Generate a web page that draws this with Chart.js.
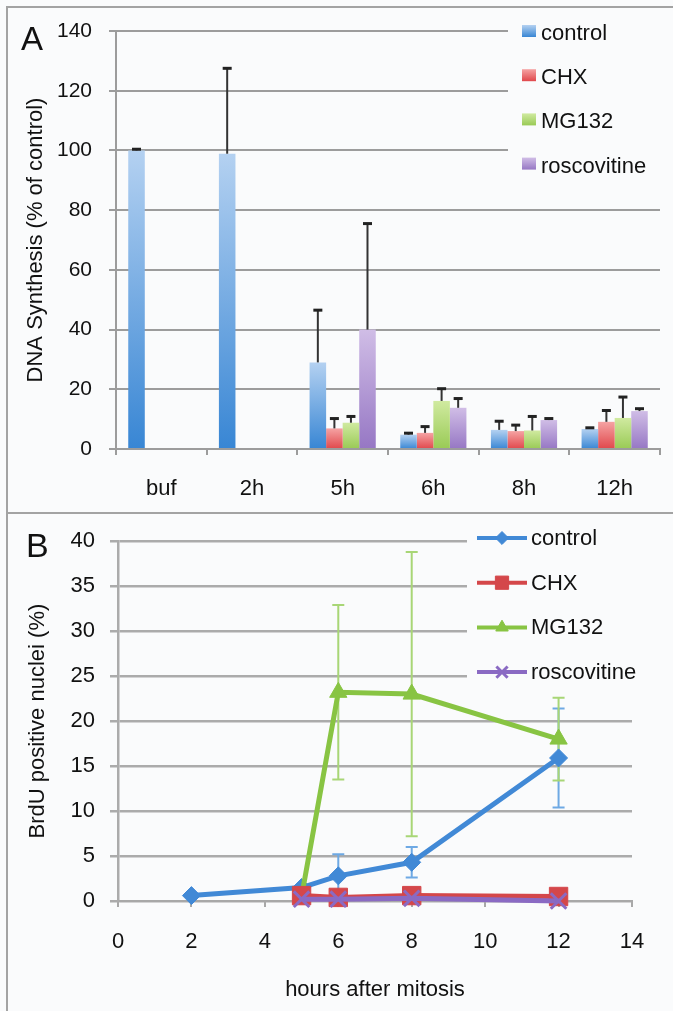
<!DOCTYPE html>
<html>
<head>
<meta charset="utf-8">
<script src="https://cdn.jsdelivr.net/npm/chart.js@4.4.1/dist/chart.umd.min.js"></script>
<style>
  html, body { margin: 0; padding: 0; background: #fafbfc; }
  #wrap { position: relative; width: 673px; height: 1011px; overflow: hidden; }
  canvas { position: absolute; left: 0; }
  .rule { position: absolute; background: #a3a3a3; }
</style>
</head>
<body>
<div id="wrap">
  <canvas id="chartA" width="673" height="513" style="top:0"></canvas>
  <canvas id="chartB" width="673" height="498" style="top:513px"></canvas>
  <div class="rule" style="left:6px;top:6px;width:667px;height:2px"></div>
  <div class="rule" style="left:6px;top:512px;width:667px;height:2px"></div>
  <div class="rule" style="left:6px;top:6px;width:2px;height:1005px"></div>
</div>
<script>
const FONT = "'Liberation Sans', Arial, Helvetica, sans-serif";
const BG = '#fafbfc';
const GRID = '#9c9c9c';

// ---- panel A: DNA synthesis, bars with upward error bars
const timepointsA = ['buf', '2h', '5h', '6h', '8h', '12h'];
const seriesNames = ['control', 'CHX', 'MG132', 'roscovitine'];
const synthControl = [100, 98.9, 29.0, 4.8, 6.4, 6.7];
const synthCHX     = [null, null, 6.9, 5.4, 6.0, 9.1];
const synthMG132   = [null, null, 8.8, 16.1, 6.2, 10.4];
const synthRosc    = [null, null, 40.0, 13.8, 9.7, 12.7];
const synthErrControl = [0.4, 28.6, 17.5, 0.5, 2.9, 0.4];
const synthErrCHX     = [null, null, 3.3, 2.1, 2.0, 3.8];
const synthErrMG132   = [null, null, 2.1, 4.1, 4.7, 7.0];
const synthErrRosc    = [null, null, 35.5, 3.1, 0.5, 0.8];
const yTicksA = [0, 20, 40, 60, 80, 100, 120, 140];

// ---- panel B: BrdU positive nuclei over time
const hoursControl = [2, 5, 6, 8, 12];
const hoursTreated = [5, 6, 8, 12];
const brduControl = [0.6, 1.5, 2.8, 4.3, 15.9];
const brduCHX     = [0.6, 0.4, 0.6, 0.5];
const brduMG132   = [0.5, 23.2, 23.0, 18.0];
const brduRosc    = [0.2, 0.2, 0.3, 0.0];
const brduErrControl = [null, null, 2.4, 1.7, 5.5];
const brduErrMG132   = [null, 9.7, 15.8, 4.6];
const yTicksB = [0, 5, 10, 15, 20, 25, 30, 35, 40];
const xTicksB = [0, 2, 4, 6, 8, 10, 12, 14];

// bar colours: light at the top of each bar, darker at its base
const barTops    = ['#b4d1f1', '#f5a3a3', '#d0eaa0', '#d0bde6'];
const barBottoms = ['#3886d4', '#e0474b', '#99ca55', '#9677c4'];
const lineColors = ['#4189d6', '#d4474a', '#88c443', '#8a6ac3'];
const pointStyles = ['rectRot', 'rect', 'triangle', 'crossRot'];
const pointSizes = [9, 13, 10, 11];

function barFill(top, bottom) {
  return (c) => {
    const chart = c.chart;
    if (!chart.chartArea || c.type !== 'data' || c.raw == null) return bottom;
    const ys = chart.scales.y;
    const g = chart.ctx.createLinearGradient(0, ys.getPixelForValue(c.raw), 0, ys.getPixelForValue(0));
    g.addColorStop(0, top);
    g.addColorStop(1, bottom);
    return g;
  };
}

const errorBarsA = {
  id: 'errorBarsA',
  afterDatasetsDraw(chart) {
    const { ctx } = chart;
    const ys = chart.scales.y;
    chart.data.datasets.forEach((ds, di) => {
      const meta = chart.getDatasetMeta(di);
      ds.errUp.forEach((e, i) => {
        const v = ds.data[i];
        if (e == null || v == null) return;
        const x = meta.data[i].x;
        const y0 = ys.getPixelForValue(v);
        const y1 = ys.getPixelForValue(v + e);
        ctx.save();
        ctx.strokeStyle = '#333';
        ctx.lineWidth = 2;
        ctx.beginPath();
        ctx.moveTo(x, y0);
        ctx.lineTo(x, y1);
        ctx.stroke();
        ctx.strokeStyle = '#222';
        ctx.lineWidth = 3;
        ctx.beginPath();
        ctx.moveTo(x - 4.5, y1);
        ctx.lineTo(x + 4.5, y1);
        ctx.stroke();
        ctx.restore();
      });
    });
  }
};

const legendA = {
  id: 'legendA',
  beforeDatasetsDraw(chart) {
    const { ctx } = chart;
    ctx.save();
    ctx.fillStyle = BG;
    ctx.fillRect(508, 16, 160, 166);
    ctx.restore();
  },
  afterDraw(chart) {
    const { ctx } = chart;
    chart.data.datasets.forEach((ds, i) => {
      const y = 33 + i * 44.2;
      ctx.save();
      const g = ctx.createLinearGradient(0, y - 8, 0, y + 4);
      g.addColorStop(0, barTops[i]);
      g.addColorStop(1, barBottoms[i]);
      ctx.fillStyle = g;
      ctx.fillRect(522, y - 8, 14, 12);
      ctx.fillStyle = '#111';
      ctx.font = '22px ' + FONT;
      ctx.textBaseline = 'middle';
      ctx.fillText(ds.label, 541, y + 1);
      ctx.restore();
    });
    ctx.save();
    ctx.fillStyle = '#111';
    ctx.font = '33px ' + FONT;
    ctx.textBaseline = 'alphabetic';
    ctx.fillText('A', 21, 50);
    ctx.restore();
  }
};

const synthSeries = [synthControl, synthCHX, synthMG132, synthRosc];
const synthErrs = [synthErrControl, synthErrCHX, synthErrMG132, synthErrRosc];

new Chart(document.getElementById('chartA'), {
  type: 'bar',
  data: {
    labels: timepointsA,
    datasets: seriesNames.map((name, i) => ({
      label: name,
      data: synthSeries[i],
      errUp: synthErrs[i],
      backgroundColor: barFill(barTops[i], barBottoms[i]),
      borderWidth: 0
    }))
  },
  options: {
    responsive: false,
    animation: false,
    layout: { padding: { top: 31, right: 13, bottom: 0, left: 0 } },
    datasets: { bar: { categoryPercentage: 0.73, barPercentage: 1.0 } },
    plugins: { legend: { display: false }, tooltip: { enabled: false } },
    scales: {
      x: {
        offset: true,
        grid: { display: true, offset: true, drawOnChartArea: false, tickLength: 6, color: GRID, lineWidth: 2 },
        border: { color: GRID, width: 2 },
        ticks: { color: '#111', font: { family: FONT, size: 22 }, padding: 21 },
        afterFit(scale) { scale.height = 64; }
      },
      y: {
        min: yTicksA[0],
        max: yTicksA[yTicksA.length - 1],
        ticks: { stepSize: yTicksA[1] - yTicksA[0], color: '#111', font: { family: FONT, size: 21 }, padding: 17 },
        grid: { color: GRID, lineWidth: 2, tickLength: 7 },
        border: { color: GRID, width: 2 },
        title: { display: true, text: 'DNA Synthesis (% of control)', color: '#111', font: { family: FONT, size: 22 }, padding: { top: 23 } },
        afterFit(scale) { scale.width = 116; }
      }
    }
  },
  plugins: [legendA, errorBarsA]
});

// ---- panel B
const errColors = ['#6ea9e4', null, '#a8d676', null];

const errorBarsB = {
  id: 'errorBarsB',
  beforeDatasetsDraw(chart) {
    const { ctx } = chart;
    ctx.save();
    ctx.fillStyle = BG;
    ctx.fillRect(467, 4, 180, 167);
    ctx.restore();
    const xs = chart.scales.x, ys = chart.scales.y;
    chart.data.datasets.forEach((ds) => {
      if (!ds.err) return;
      ds.err.forEach((e, i) => {
        if (e == null) return;
        const p = ds.data[i];
        const x = xs.getPixelForValue(p.x);
        const lo = ys.getPixelForValue(p.y - e);
        const hi = ys.getPixelForValue(p.y + e);
        ctx.save();
        ctx.strokeStyle = ds.errColor;
        ctx.lineWidth = 2;
        ctx.beginPath();
        ctx.moveTo(x, lo); ctx.lineTo(x, hi);
        ctx.moveTo(x - 6, lo); ctx.lineTo(x + 6, lo);
        ctx.moveTo(x - 6, hi); ctx.lineTo(x + 6, hi);
        ctx.stroke();
        ctx.restore();
      });
    });
  }
};

const legendB = {
  id: 'legendB',
  afterDraw(chart) {
    const { ctx } = chart;
    chart.data.datasets.forEach((ds, i) => {
      const y = 25 + i * 44.7;
      ctx.save();
      ctx.strokeStyle = ds.borderColor;
      ctx.fillStyle = ds.borderColor;
      ctx.lineWidth = 4;
      ctx.beginPath();
      ctx.moveTo(477, y); ctx.lineTo(527, y);
      ctx.stroke();
      ctx.lineWidth = ds.pointBorderWidth;
      Chart.helpers.drawPoint(ctx, { pointStyle: ds.pointStyle, radius: ds.pointRadius * 0.72, rotation: 0, borderWidth: ds.pointBorderWidth }, 502, y);
      ctx.fillStyle = '#111';
      ctx.font = '22px ' + FONT;
      ctx.textBaseline = 'middle';
      ctx.fillText(ds.label, 531, y + 1);
      ctx.restore();
    });
    ctx.save();
    ctx.fillStyle = '#111';
    ctx.font = '34px ' + FONT;
    ctx.fillText('B', 26, 44);
    ctx.restore();
  }
};

const brduSeries = [brduControl, brduCHX, brduMG132, brduRosc];
const brduHours = [hoursControl, hoursTreated, hoursTreated, hoursTreated];
const brduErrs = [brduErrControl, null, brduErrMG132, null];
const drawOrder = [4, 2, 3, 1];

new Chart(document.getElementById('chartB'), {
  type: 'line',
  data: {
    datasets: seriesNames.map((name, i) => ({
      label: name,
      data: brduSeries[i].map((v, j) => ({ x: brduHours[i][j], y: v })),
      err: brduErrs[i],
      errColor: errColors[i],
      borderColor: lineColors[i],
      backgroundColor: lineColors[i],
      pointBackgroundColor: lineColors[i],
      pointBorderColor: lineColors[i],
      pointStyle: pointStyles[i],
      pointRadius: pointSizes[i],
      pointBorderWidth: pointStyles[i] === 'crossRot' ? 3 : 1,
      borderWidth: 5,
      tension: 0,
      fill: false,
      clip: false,
      order: drawOrder[i]
    }))
  },
  options: {
    responsive: false,
    animation: false,
    layout: { padding: { top: 22, right: 41, bottom: 0, left: 0 } },
    plugins: { legend: { display: false }, tooltip: { enabled: false } },
    scales: {
      x: {
        type: 'linear',
        min: xTicksB[0],
        max: xTicksB[xTicksB.length - 1],
        ticks: { stepSize: xTicksB[1] - xTicksB[0], color: '#111', font: { family: FONT, size: 22 }, padding: 22 },
        grid: { drawOnChartArea: false, tickLength: 6, color: '#a8a8a8', lineWidth: 2 },
        border: { color: '#a8a8a8', width: 2 },
        title: { display: true, text: 'hours after mitosis', color: '#111', font: { family: FONT, size: 22 }, padding: { top: 0, bottom: 8 } },
        afterFit(scale) { scale.height = 110; }
      },
      y: {
        min: yTicksB[0],
        max: yTicksB[yTicksB.length - 1],
        ticks: { stepSize: yTicksB[1] - yTicksB[0], color: '#111', font: { family: FONT, size: 22 }, padding: 15 },
        grid: { color: '#ababab', lineWidth: 2.5, tickLength: 8 },
        border: { color: '#ababab', width: 2.5 },
        title: { display: true, text: 'BrdU positive nuclei (%)', color: '#111', font: { family: FONT, size: 22 }, padding: { top: 25 } },
        afterFit(scale) { scale.width = 118; }
      }
    }
  },
  plugins: [errorBarsB, legendB]
});
</script>
</body>
</html>
